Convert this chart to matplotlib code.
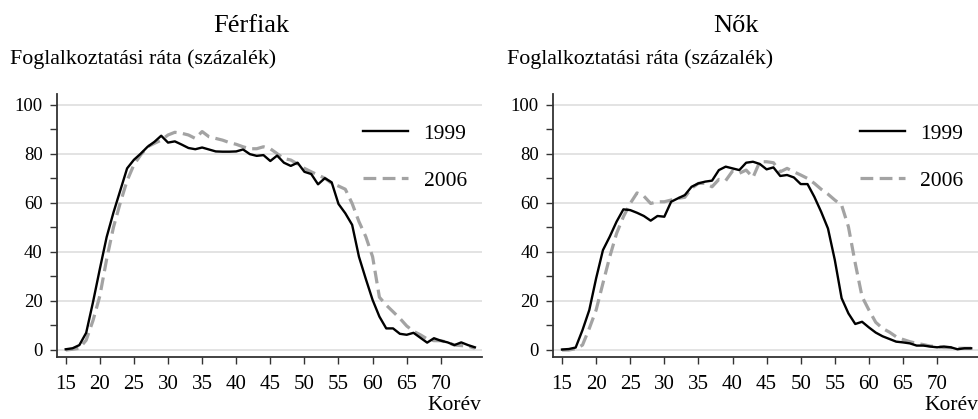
import matplotlib
matplotlib.use("Agg")
import matplotlib.pyplot as plt
import numpy as np

plt.rcParams['font.family'] = ['Liberation Serif', 'DejaVu Serif']

ages = list(range(15, 76))

men_1999 = [0.3, 0.7, 2, 7, 19.5, 33, 46, 56, 65, 74, 77.5, 80, 82.8, 84.8, 87.3,
            84.5, 85, 83.7, 82.3, 81.8, 82.5, 81.7, 80.9, 80.8, 80.8, 80.9, 81.7, 79.8,
            79.1, 79.4, 77, 79.2, 76.3, 75, 76.3, 72.6, 71.7, 67.5, 70, 68.3, 59.5, 55.7,
            51, 38, 29, 20.4, 13.6, 8.8, 8.8, 6.6, 6.2, 7, 5, 3, 4.8, 3.8, 3.1, 2, 3.1, 2, 1.1]
men_2006 = [0, 0.3, 0.7, 4, 12, 22, 37, 50, 60, 69, 75.5, 79.5, 82.8, 84.2, 85.5,
            87.6, 88.7, 88.3, 87.6, 86.2, 89, 86.9, 86.2, 85.5, 84.5, 83.8, 82.8, 82,
            82, 82.8, 82, 80, 78, 77.4, 75.8, 74, 72.6, 71.3, 70, 67.9, 66.8, 65.5,
            59.7, 52.3, 46.2, 38, 21.5, 18.3, 15.6, 12.9, 9.8, 7.6, 6.2, 4.5, 3.8, 3.8,
            3.1, 2, 1.8, 1.6, 0.7]
women_1999 = [0.2, 0.4, 1, 8.1, 16.3, 29.2, 40.7, 46.2, 52.3, 57.3, 57, 55.9, 54.6,
              52.7, 54.6, 54.3, 60.4, 61.8, 63.1, 66.5, 67.9, 68.6, 69, 73.3, 74.7, 74,
              73.3, 76.3, 76.7, 75.8, 73.6, 74.4, 70.9, 71.3, 70.3, 67.6, 67.6, 62.4,
              56.3, 49.5, 36.7, 21.1, 14.9, 10.6, 11.5, 9.2, 7.1, 5.6, 4.5, 3.4, 3.1,
              2.7, 1.8, 1.8, 1.4, 1.1, 1.4, 1.1, 0.3, 0.7, 0.7]
women_2006 = [0, 0, 0.5, 2, 8.8, 16.3, 27.2, 38, 47.5, 54.3, 59.7, 64, 62.7, 59.7,
              60.4, 60.4, 61.1, 61.8, 62.2, 65.9, 67.9, 67.9, 66.5, 69.5, 69, 72.9, 72,
              73.3, 70.3, 76.7, 76.7, 76.3, 72.6, 74, 72.6, 71.3, 69.9, 67.9, 65.5, 63.5,
              61.1, 59, 50.2, 35.3, 21.7, 16.3, 11.3, 8.8, 7.3, 5.4, 4.3, 3.4, 2.7, 2.2,
              1.6, 1.4, 1, 1, 0.7, 0.7, 0.7]

titles = ["Férfiak", "Nők"]
ylabel = "Foglalkoztatási ráta (százalék)"
xlabel = "Korév"
series_labels = ["1999", "2006"]
xticks = list(range(15, 71, 5))
yticks_major = list(range(0, 101, 20))
yticks_minor = list(range(10, 100, 20))

W, H = 979, 419
fig = plt.figure(figsize=(W / 100, H / 100), dpi=100)

panel_left_px = [57, 553.3]
ax_w = 424.7
top_px, bot_px = 94, 356.7
title_x_px = [251, 736]
ylab_x_px = [10, 507]
data = [(men_1999, men_2006), (women_1999, women_2006)]

for i in range(2):
    ax = fig.add_axes([panel_left_px[i] / W, 1 - bot_px / H, ax_w / W, (bot_px - top_px) / H])
    d99, d06 = data[i]
    ax.plot(ages, d99, color='black', lw=1.7, label=series_labels[0], zorder=3)
    ax.plot(ages, d06, color='#a3a3a3', lw=2.3, dashes=(4, 2), dash_capstyle='butt',
            label=series_labels[1], zorder=2)
    ax.set_xlim(13.72, 76.0)
    ax.set_ylim(-2.73, 104.3)
    ax.set_xticks(xticks)
    ax.set_yticks(yticks_major)
    ax.set_yticks(yticks_minor, minor=True)
    ax.set_xticklabels([str(t) for t in xticks], fontsize=15)
    ax.set_yticklabels([str(t) for t in yticks_major], fontsize=13.5)
    ax.tick_params(axis='both', which='both', length=5, width=1.0, color='#333333',
                   direction='out')
    ax.tick_params(axis='y', pad=5.3)
    ax.tick_params(axis='x', pad=8)
    ax.grid(axis='y', which='major', color='#dedede', lw=1.2, zorder=0)
    ax.set_axisbelow(True)
    for s in ['top', 'right']:
        ax.spines[s].set_visible(False)
    for s in ['left', 'bottom']:
        ax.spines[s].set_color('#333333')
        ax.spines[s].set_linewidth(1.3)
    ax.legend(loc='upper right', bbox_to_anchor=(1.0, 0.945), frameon=False, fontsize=15.5,
              handlelength=2.1, handletextpad=0.7, labelspacing=1.25, borderaxespad=0.3)
    fig.text((panel_left_px[i] + ax_w) / W, 1 - 405 / H, xlabel, ha='right', va='center',
             fontsize=15.5)
    fig.text(title_x_px[i] / W, 1 - 26 / H, titles[i], ha='center', va='center', fontsize=19)
    fig.text(ylab_x_px[i] / W, 1 - 59 / H, ylabel, ha='left', va='center', fontsize=15.8)

fig.savefig("out.png", dpi=100)
